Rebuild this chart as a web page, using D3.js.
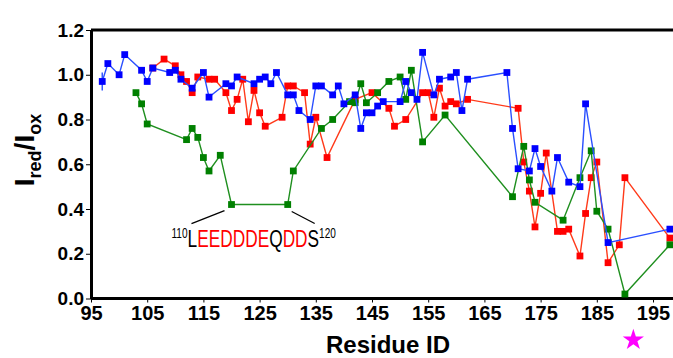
<!DOCTYPE html>
<html>
<head>
<meta charset="utf-8">
<script src="https://cdn.jsdelivr.net/npm/d3@7"></script>
<style>
  body { margin: 0; background: #fff; }
  svg { display: block; font-family: "Liberation Sans", Arial, sans-serif; }
</style>
</head>
<body>
<svg id="chart" width="673" height="358"></svg>
<script>
// residue numbers and I_red/I_ox ratios
const residuesBlue = [97, 98, 100, 101, 104, 105, 106, 109, 110, 111, 113, 115, 116, 119, 120, 121, 124, 125, 126, 127, 128, 130, 131, 132, 134, 135, 136, 138, 139, 140, 142, 143, 144, 145, 146, 147, 150, 151, 152, 153, 154, 156, 157, 159, 160, 161, 162, 169, 170, 171, 173, 174, 175, 177, 178, 180, 182, 183, 187, 198];
const ratioBlue = [0.97, 1.05, 1.00, 1.09, 1.02, 0.97, 1.03, 1.01, 1.02, 0.98, 0.94, 1.01, 0.90, 0.96, 0.95, 0.99, 0.96, 0.98, 0.99, 0.96, 1.01, 0.91, 0.91, 0.84, 0.80, 0.95, 0.95, 0.91, 0.95, 0.87, 0.91, 0.76, 0.83, 0.83, 0.86, 0.88, 0.88, 0.97, 0.92, 0.89, 1.10, 0.91, 0.98, 0.99, 1.01, 0.84, 0.98, 1.01, 0.76, 0.58, 0.57, 0.67, 0.59, 0.48, 0.63, 0.52, 0.50, 0.87, 0.25, 0.31];
const errorBlue = [0.04, 0, 0, 0, 0, 0, 0, 0, 0, 0, 0, 0, 0, 0, 0, 0, 0, 0, 0, 0, 0, 0, 0, 0, 0, 0, 0, 0, 0, 0, 0, 0, 0, 0, 0, 0, 0, 0, 0, 0, 0, 0, 0, 0, 0, 0, 0, 0, 0, 0, 0, 0, 0, 0, 0, 0, 0, 0, 0, 0];

const residuesRed = [106, 108, 110, 111, 112, 113, 114, 116, 117, 119, 120, 121, 122, 123, 124, 125, 126, 129, 130, 131, 133, 134, 135, 137, 142, 145, 148, 149, 151, 154, 155, 156, 157, 158, 159, 160, 162, 171, 172, 173, 174, 175, 176, 178, 179, 180, 182, 183, 184, 185, 187, 189, 190, 198];
const ratioRed = [1.03, 1.07, 1.04, 1.00, 0.97, 0.92, 0.99, 0.98, 0.98, 0.92, 0.84, 0.89, 0.98, 0.79, 0.93, 0.83, 0.77, 0.81, 0.95, 0.95, 0.92, 0.69, 0.81, 0.63, 0.89, 0.92, 0.85, 0.77, 0.80, 0.92, 0.92, 0.81, 0.94, 0.86, 0.88, 0.87, 0.89, 0.85, 0.61, 0.48, 0.32, 0.47, 0.65, 0.30, 0.30, 0.31, 0.19, 0.38, 0.54, 0.61, 0.16, 0.24, 0.54, 0.27];

const residuesGreen = [103, 104, 105, 112, 113, 114, 115, 116, 118, 120, 130, 131, 136, 138, 141, 142, 143, 144, 146, 148, 150, 151, 152, 154, 158, 170, 172, 173, 174, 179, 182, 184, 185, 187, 190, 198];
const ratioGreen = [0.92, 0.87, 0.78, 0.71, 0.76, 0.72, 0.63, 0.57, 0.64, 0.42, 0.42, 0.57, 0.76, 0.80, 0.88, 0.875, 0.96, 0.875, 0.92, 0.97, 0.99, 0.89, 1.02, 0.70, 0.82, 0.455, 0.68, 0.53, 0.43, 0.35, 0.54, 0.66, 0.39, 0.31, 0.02, 0.24];

const xTicks = [95, 105, 115, 125, 135, 145, 155, 165, 175, 185, 195];
const yTicks = [0, 0.2, 0.4, 0.6, 0.8, 1.0, 1.2];

// sequence annotation under the 120-130 dip
const seqParts = [
  { t: "110", sup: true, c: "#000" },
  { t: "L", c: "#000" },
  { t: "EEDDDE", c: "#ff0000" },
  { t: "Q", c: "#000" },
  { t: "DD", c: "#ff0000" },
  { t: "S", c: "#000" },
  { t: "120", sup: true, c: "#000" }
];
const markedResidue = 191.5;

const svg = d3.select("#chart");

const x = d3.scaleLinear().domain([95, 199]).range([91, 675.5]);
const y = d3.scaleLinear().domain([0, 1.2]).range([298.5, 30]);

// top frame line
svg.append("line")
  .attr("x1", x(95)).attr("x2", 673)
  .attr("y1", y(1.2)).attr("y2", y(1.2))
  .attr("stroke", "#000").attr("stroke-width", 3);

// axes
const xAxis = svg.append("g")
  .attr("transform", "translate(0," + y(0) + ")")
  .call(d3.axisBottom(x).tickValues(xTicks).tickSize(4).tickSizeOuter(0).tickPadding(3));
xAxis.select(".domain").attr("stroke-width", 3).attr("d", "M" + x(95) + ",0H673");
xAxis.selectAll("text")
  .attr("font-size", 20).attr("font-weight", "bold").attr("fill", "#000")
  .attr("font-family", "'Liberation Sans Narrow', 'Liberation Sans', Arial, sans-serif");

const yAxis = svg.append("g")
  .attr("transform", "translate(" + x(95) + ",0)")
  .call(d3.axisLeft(y).tickValues(yTicks).tickFormat(d3.format(".1f")).tickSize(5).tickSizeOuter(0).tickPadding(2));
yAxis.select(".domain").attr("stroke-width", 3);
yAxis.selectAll("text")
  .attr("font-size", 19).attr("font-weight", "bold").attr("fill", "#000")
  .attr("font-family", "'Liberation Sans Narrow', 'Liberation Sans', Arial, sans-serif");

// series
function drawSeries(res, vals, lineColor, markColor) {
  const pts = res.map((r, i) => ({ r: r, v: vals[i] }));
  const line = d3.line().x(d => x(d.r)).y(d => y(d.v));
  svg.append("path")
    .datum(pts)
    .attr("d", line)
    .attr("fill", "none")
    .attr("stroke", lineColor)
    .attr("stroke-width", 1.4);
  svg.append("g").selectAll("rect")
    .data(pts)
    .enter().append("rect")
    .attr("x", d => x(d.r) - 3.4)
    .attr("y", d => y(d.v) - 3.4)
    .attr("width", 6.8)
    .attr("height", 6.8)
    .attr("fill", markColor);
}

drawSeries(residuesRed, ratioRed, "#ff3a1a", "#ff0000");
drawSeries(residuesGreen, ratioGreen, "#1f8f1f", "#008000");

// error bars on blue
svg.append("g").selectAll("line")
  .data(residuesBlue.map((r, i) => ({ r: r, v: ratioBlue[i], e: errorBlue[i] })).filter(d => d.e > 0))
  .enter().append("line")
  .attr("x1", d => x(d.r)).attr("x2", d => x(d.r))
  .attr("y1", d => y(d.v - d.e)).attr("y2", d => y(d.v + d.e))
  .attr("stroke", "#2a4fff").attr("stroke-width", 1.4);

drawSeries(residuesBlue, ratioBlue, "#2a4fff", "#0000ff");

// annotation: pointer lines and sequence
const gA = ratioGreen[residuesGreen.indexOf(120)];
svg.append("line")
  .attr("x1", x(120) - 7).attr("y1", y(gA) + 6)
  .attr("x2", x(120) - 40).attr("y2", y(gA) + 19)
  .attr("stroke", "#000").attr("stroke-width", 1.3);
svg.append("line")
  .attr("x1", x(130) + 4).attr("y1", y(gA) + 7)
  .attr("x2", x(130) + 27).attr("y2", y(gA) + 19)
  .attr("stroke", "#000").attr("stroke-width", 1.3);

// condensed look: draw at natural width, squeeze horizontally
const seq = svg.append("text")
  .attr("transform", "translate(171.5,247) scale(0.72,1)")
  .attr("font-size", 24);
let lift = 0;
seqParts.forEach(p => {
  const want = p.sup ? -9 : 0;
  seq.append("tspan")
    .attr("fill", p.c)
    .attr("font-size", p.sup ? 14 : 24)
    .attr("dy", want - lift)
    .text(p.t);
  lift = want;
});

// axis titles
svg.append("text")
  .attr("x", 388)
  .attr("y", 353)
  .attr("text-anchor", "middle")
  .attr("font-size", 24)
  .attr("font-weight", "bold")
  .text("Residue ID");

const yt = svg.append("text")
  .attr("transform", "translate(34,150) rotate(-90)")
  .attr("text-anchor", "middle")
  .attr("font-size", 28)
  .attr("font-weight", "bold");
yt.append("tspan").text("I");
yt.append("tspan").attr("font-size", 18).attr("dy", 7).text("red");
yt.append("tspan").attr("dy", -7).text("/I");
yt.append("tspan").attr("font-size", 18).attr("dy", 7).text("ox");

// magenta star marking a residue
svg.append("path")
  .attr("d", d3.symbol().type(d3.symbolStar).size(140)())
  .attr("transform", "translate(" + x(markedResidue) + ",340)")
  .attr("fill", "#ff00ff");
</script>
</body>
</html>
